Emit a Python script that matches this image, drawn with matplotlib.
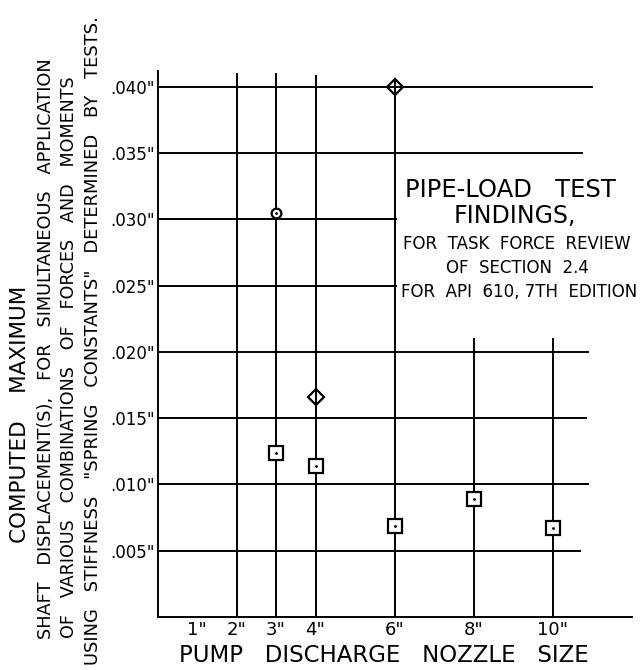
import matplotlib
matplotlib.use("Agg")
import matplotlib.pyplot as plt

plt.rcParams['font.family'] = ['DejaVu Sans']

# nozzle sizes (inches) and computed max shaft displacement (inches)
square_x = [3, 4, 6, 8, 10]
square_y = [0.0124, 0.0114, 0.0069, 0.0089, 0.0067]
diamond_x = [4, 6]
diamond_y = [0.0166, 0.0400]
circle_x = [3]
circle_y = [0.0305]

x_ticks = [1, 2, 3, 4, 6, 8, 10]
x_tick_labels = ['1"', '2"', '3"', '4"', '6"', '8"', '10"']
y_ticks = [0.005, 0.010, 0.015, 0.020, 0.025, 0.030, 0.035, 0.040]
y_tick_labels = ['.005"', '.010"', '.015"', '.020"', '.025"', '.030"', '.035"', '.040"']

# drawn grid: how far each ruled line runs
hline_end = [10.7, 10.9, 10.85, 10.9, 6.05, 6.05, 10.75, 11.0]
vline_x = [2, 3, 4, 6, 8, 10]
vline_top = [0.0410, 0.0410, 0.0408, 0.0404, 0.0210, 0.0210]

fig = plt.figure(figsize=(6.42, 6.70), dpi=100)
ax = fig.add_axes([157.5 / 642, 53 / 670, 474 / 642, 546 / 670])
ax.set_xlim(0, 12)
ax.set_ylim(0, 0.0412)

lw = 1.4
for y, xe in zip(y_ticks, hline_end):
    ax.plot([0, xe], [y, y], color='black', lw=lw, zorder=1)
for x, yt in zip(vline_x, vline_top):
    ax.plot([x, x], [0, yt], color='black', lw=lw, zorder=1)

ax.plot(square_x, square_y, ls='none', marker='s', ms=10, mfc='white',
        mec='black', mew=1.6, zorder=3)
ax.plot(square_x, square_y, ls='none', marker='.', ms=2, color='black', zorder=4)
ax.plot(diamond_x, diamond_y, ls='none', marker='D', ms=8, mfc='none',
        mec='black', mew=1.6, zorder=3)
ax.plot(circle_x, circle_y, ls='none', marker='o', ms=7, mfc='white',
        mec='black', mew=1.6, zorder=3)
ax.plot(circle_x, circle_y, ls='none', marker='.', ms=2, color='black', zorder=4)

for s in ['top', 'right']:
    ax.spines[s].set_visible(False)
ax.spines['left'].set_linewidth(lw)
ax.spines['bottom'].set_linewidth(lw)

ax.set_xticks(x_ticks)
ax.set_xticklabels(x_tick_labels, fontsize=13)
ax.set_yticks(y_ticks)
ax.set_yticklabels(y_tick_labels, fontsize=12)
ax.tick_params(length=0, pad=2)
ax.tick_params(axis='x', pad=3)

fig.text(383.5 / 642, 1 - 655 / 670, 'PUMP   DISCHARGE   NOZZLE   SIZE',
         fontsize=16.5, ha='center', va='center')

# stacked y labels
fig.text(20 / 642, 1 - 414 / 670, 'COMPUTED    MAXIMUM', fontsize=15.5,
         rotation=90, ha='center', va='center')
fig.text(46 / 642, 1 - 349 / 670,
         'SHAFT   DISPLACEMENT(S),   FOR   SIMULTANEOUS   APPLICATION',
         fontsize=12.8, rotation=90, ha='center', va='center')
fig.text(69 / 642, 1 - 357 / 670,
         'OF   VARIOUS   COMBINATIONS   OF   FORCES   AND   MOMENTS',
         fontsize=12.6, rotation=90, ha='center', va='center')
fig.text(93 / 642, 1 - 341 / 670,
         'USING   STIFFNESS   "SPRING   CONSTANTS"   DETERMINED   BY   TESTS.',
         fontsize=12.9, rotation=90, ha='center', va='center')

# notes block on the right
fig.text(510 / 642, 1 - 190 / 670, 'PIPE-LOAD   TEST', fontsize=17.5,
         ha='center', va='center')
fig.text(515 / 642, 1 - 216 / 670, 'FINDINGS,', fontsize=17,
         ha='center', va='center')
fig.text(517 / 642, 1 - 244 / 670, 'FOR  TASK  FORCE  REVIEW', fontsize=12,
         ha='center', va='center')
fig.text(517 / 642, 1 - 268 / 670, 'OF  SECTION  2.4', fontsize=12,
         ha='center', va='center')
fig.text(519 / 642, 1 - 292 / 670, 'FOR  API  610, 7TH  EDITION', fontsize=12,
         ha='center', va='center')

plt.savefig('out.png', dpi=100)
